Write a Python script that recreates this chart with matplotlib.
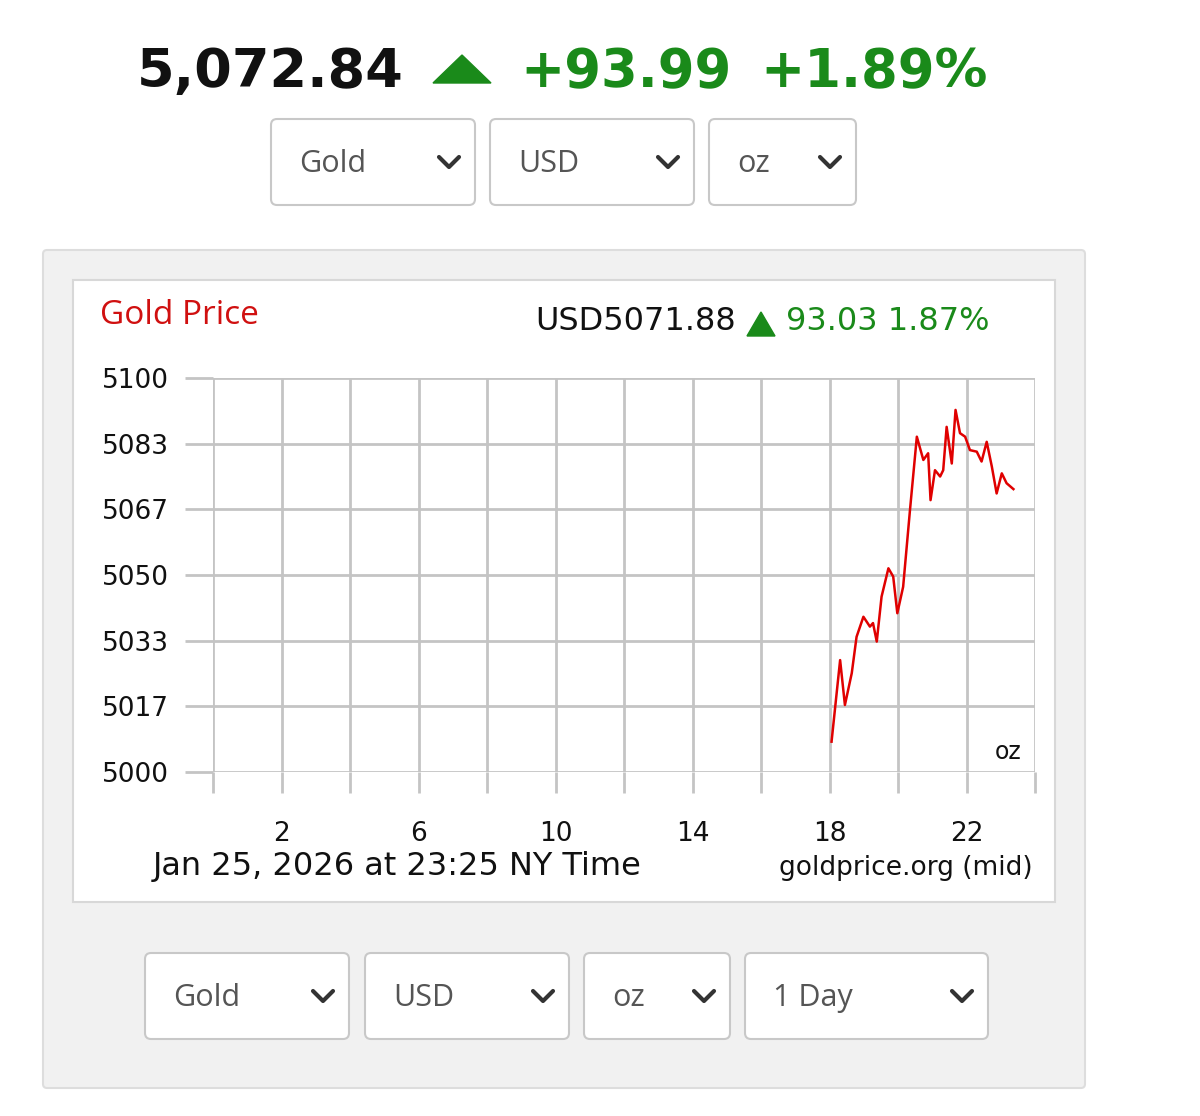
import matplotlib

matplotlib.use("Agg")
import matplotlib.pyplot as plt
from matplotlib.patches import FancyBboxPatch, Polygon

W, H = 1200, 1116

# hours since midnight and mid price (USD/oz)
hours = [18.06, 18.31, 18.45, 18.65, 18.79, 18.99, 19.18, 19.27, 19.38, 19.52,
         19.72, 19.86, 19.98, 20.15, 20.35, 20.55, 20.74, 20.88, 20.95, 21.08,
         21.23, 21.32, 21.42, 21.57, 21.68, 21.81, 21.96, 22.10, 22.30, 22.44,
         22.59, 22.74, 22.88, 23.03, 23.17, 23.37]
prices = [5007.7, 5028.4, 5017.0, 5025.1, 5034.3, 5039.4, 5036.9, 5037.8, 5033.1, 5044.5,
          5051.7, 5049.6, 5040.3, 5047.0, 5066.5, 5085.1, 5079.2, 5080.9, 5069.0, 5076.6,
          5075.0, 5076.6, 5087.6, 5078.3, 5091.9, 5086.0, 5085.1, 5081.7, 5081.3, 5078.8,
          5083.8, 5077.5, 5070.7, 5075.8, 5073.3, 5071.8]
y_ticks = [5000 + 100 / 6 * k for k in range(7)]
y_labels = ["5000", "5017", "5033", "5050", "5067", "5083", "5100"]
x_label_hours = [2, 6, 10, 14, 18, 22]
top_selects = ["Gold", "USD", "oz"]
bottom_selects = ["Gold", "USD", "oz", "1 Day"]

GREEN = "#1a8a1a"
FONT = ["DejaVu Sans"]

fig = plt.figure(figsize=(W / 100, H / 100), dpi=100)
bg = fig.add_axes([0, 0, 1, 1])
bg.set_xlim(0, W)
bg.set_ylim(H, 0)
bg.axis("off")


def box(x0, y0, x1, y1, face, edge, r=4, lw=1.5):
    bg.add_patch(FancyBboxPatch((x0, y0), x1 - x0, y1 - y0,
                                boxstyle=f"round,pad=0,rounding_size={r}",
                                fc=face, ec=edge, lw=lw))


def select(x0, x1, yc, label):
    box(x0, yc - 43, x1, yc + 43, "white", "#c8c8c8", r=6)
    bg.text(x0 + 28, yc + 2, label, fontsize=22, color="#555555",
            va="center", ha="left", family=["Open Sans", "DejaVu Sans"])
    cx = x1 - 26
    bg.plot([cx - 10, cx, cx + 10], [yc - 5, yc + 5, yc - 5], color="#333333",
            lw=3, solid_capstyle="round", solid_joinstyle="round")


# header
bg.text(270, 72, "5,072.84", fontsize=39, fontweight="bold", color="#111111",
        ha="center", va="center", family=FONT)
bg.add_patch(Polygon([[433, 83], [491, 83], [462, 55]], color=GREEN))
bg.text(626, 72, "+93.99", fontsize=38, fontweight="bold", color=GREEN,
        ha="center", va="center", family=FONT)
bg.text(874, 72, "+1.89%", fontsize=38, fontweight="bold", color=GREEN,
        ha="center", va="center", family=FONT)
for (x0, x1), lab in zip([(271, 475), (490, 694), (709, 856)], top_selects):
    select(x0, x1, 162, lab)

# panels
box(43, 250, 1085, 1088, "#f1f1f1", "#dddddd", r=4)
box(73, 280, 1055, 902, "white", "#d8d8d8", r=0)
for (x0, x1), lab in zip([(145, 349), (365, 569), (584, 730), (745, 988)], bottom_selects):
    select(x0, x1, 996, lab)

bg.text(100, 315, "Gold Price", fontsize=24, color="#d01010", ha="left", va="center",
        family=["Open Sans", "DejaVu Sans"])
bg.text(736, 321, "USD5071.88", fontsize=23, color="#111111", ha="right", va="center",
        family=FONT)
bg.add_patch(Polygon([[747, 336], [775, 336], [761, 312]], color=GREEN))
bg.text(786, 321, "93.03 1.87%", fontsize=23, color=GREEN, ha="left", va="center",
        family=FONT)
bg.text(153, 867, "Jan 25, 2026 at 23:25 NY Time", fontsize=23, color="#111111",
        ha="left", va="center", family=FONT)
bg.text(1033, 868, "goldprice.org (mid)", fontsize=19, color="#111111",
        ha="right", va="center", family=FONT)

# chart
ax = fig.add_axes([213 / W, 1 - 772 / H, (1035 - 213) / W, (772 - 378) / H])
ax.set_xlim(0, 24)
ax.set_ylim(5000, 5100)
ax.set_facecolor("white")
for s in ax.spines.values():
    s.set_visible(False)
ax.set_xticks(range(0, 25, 2))
ax.set_xticklabels(["" if h not in x_label_hours else str(h) for h in range(0, 25, 2)])
ax.set_yticks(y_ticks)
ax.set_yticklabels(y_labels)
ax.grid(True, color="#c4c4c4", lw=2)
ax.tick_params(axis="both", length=20, width=2, color="#c4c4c4", labelsize=19,
               labelcolor="#111111", pad=2)
ax.tick_params(axis="y", pad=12)
ax.tick_params(axis="x", length=15, pad=20)
for lab in ax.get_xticklabels() + ax.get_yticklabels():
    lab.set_family(FONT)
ax.plot(hours, prices, color="#e00000", lw=1.8)
ax.text(23.6, 5002, "oz", fontsize=17, color="#111111", ha="right", va="bottom",
        family=FONT)

fig.savefig("out.png", dpi=100)
